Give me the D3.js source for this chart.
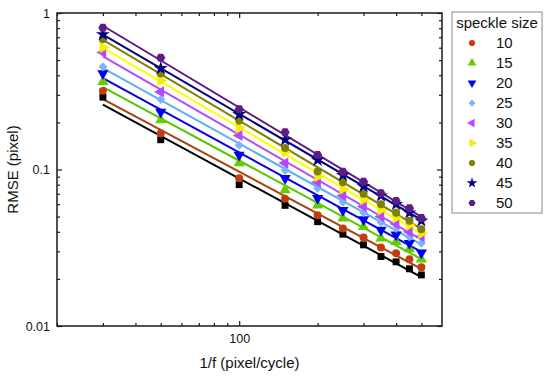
<!DOCTYPE html>
<html>
<head>
<meta charset="utf-8">
<script src="https://cdn.jsdelivr.net/npm/d3@7"></script>
<style>
  body { margin: 0; background: #fff; }
  svg { font-family: Arial, "Liberation Sans", sans-serif; }
</style>
</head>
<body>
<div id="chart"></div>
<script>
// 1/f (pixel/cycle)
var periods = [30, 50, 100, 150, 200, 250, 300, 350, 400, 450, 500];

var speckleSizes = ["10", "15", "20", "25", "30", "35", "40", "45", "50"];

// RMSE (pixel) per series
var rmseBlack = [0.290, 0.155, 0.080, 0.059, 0.0464, 0.0386, 0.0330, 0.0278, 0.0257, 0.0232, 0.0212];
var rmse10 = [0.318, 0.170, 0.088, 0.065, 0.051, 0.042, 0.0368, 0.0317, 0.0292, 0.0267, 0.0237];
var rmse15 = [0.364, 0.207, 0.110, 0.074, 0.059, 0.0488, 0.043, 0.0364, 0.0345, 0.031, 0.0267];
var rmse20 = [0.410, 0.233, 0.124, 0.088, 0.0655, 0.055, 0.048, 0.041, 0.0383, 0.0338, 0.0294];
var rmse25 = [0.454, 0.280, 0.143, 0.099, 0.076, 0.062, 0.053, 0.046, 0.042, 0.037, 0.0338];
var rmse30 = [0.560, 0.313, 0.165, 0.110, 0.083, 0.068, 0.058, 0.050, 0.045, 0.040, 0.0372];
var rmse35 = [0.600, 0.370, 0.184, 0.129, 0.090, 0.075, 0.064, 0.055, 0.049, 0.044, 0.039];
var rmse40 = [0.680, 0.410, 0.205, 0.137, 0.097, 0.083, 0.070, 0.060, 0.053, 0.047, 0.0415];
var rmse45 = [0.730, 0.443, 0.225, 0.155, 0.115, 0.092, 0.078, 0.068, 0.060, 0.053, 0.047];
var rmse50 = [0.806, 0.518, 0.243, 0.173, 0.124, 0.0967, 0.0836, 0.0705, 0.063, 0.0565, 0.049];

var yTickLabels = [0.01, 0.1, 1];
var xTickLabels = [100];

var symbolHexagon = {
  draw: function(context, size) {
    var r = Math.sqrt(size / (1.5 * Math.sqrt(3)));
    for (var i = 0; i < 6; i++) {
      var a = Math.PI / 3 * i;
      var px = r * Math.cos(a), py = r * Math.sin(a);
      if (i === 0) context.moveTo(px, py); else context.lineTo(px, py);
    }
    context.closePath();
  }
};

var series = [
  { name: null, values: rmseBlack, color: "#000000", line: "#000000", shape: d3.symbolSquare, rotate: 0, size: 48 },
  { name: "10", values: rmse10, color: "#c23c14", line: "#a8400f", shape: d3.symbolCircle, rotate: 0, size: 50 },
  { name: "15", values: rmse15, color: "#66cc00", line: "#55c800", shape: d3.symbolTriangle, rotate: 0, size: 55 },
  { name: "20", values: rmse20, color: "#0000f0", line: "#0000e0", shape: d3.symbolTriangle, rotate: 180, size: 55 },
  { name: "25", values: rmse25, color: "#78b4ff", line: "#5cb0f4", shape: d3.symbolSquare, rotate: 45, size: 40 },
  { name: "30", values: rmse30, color: "#b845ff", line: "#b04cf0", shape: d3.symbolTriangle, rotate: -90, size: 55 },
  { name: "35", values: rmse35, color: "#f0f000", line: "#ffff00", shape: d3.symbolTriangle, rotate: 90, size: 55 },
  { name: "40", values: rmse40, color: "#808000", line: "#808000", shape: d3.symbolCircle, rotate: 0, size: 50 },
  { name: "45", values: rmse45, color: "#000080", line: "#000080", shape: d3.symbolStar, rotate: 0, size: 60 },
  { name: "50", values: rmse50, color: "#5e1c86", line: "#5e1c86", shape: symbolHexagon, rotate: 0, size: 55 }
];

var width = 550,
    height = 377;
var plot = { left: 57, right: 442, top: 13, bottom: 326 };

var svg = d3.select("#chart")
  .append("svg")
    .attr("width", width)
    .attr("height", height);

var x = d3.scaleLog().domain([20, 600]).range([plot.left, plot.right]);
var y = d3.scaleLog().domain([0.01, 1]).range([plot.bottom, plot.top]);

var xMinor = [20, 30, 40, 50, 60, 70, 80, 90, 200, 300, 400, 500];
var yMinor = [];
[0.01, 0.1].forEach(function(d) {
  for (var k = 2; k <= 9; k++) yMinor.push(d * k);
});

var axisColor = "#1a1a1a";

function styleAxis(g) {
  g.select(".domain").remove();
  g.selectAll(".tick line").attr("stroke", axisColor).attr("stroke-width", 1.2);
  g.selectAll(".tick text").attr("font-size", "12.5px").attr("fill", "#111")
    .attr("font-family", "Arial, 'Liberation Sans', sans-serif");
}

// bottom axis
svg.append("g")
  .attr("transform", "translate(0," + plot.bottom + ")")
  .call(d3.axisBottom(x).tickValues(xTickLabels).tickFormat(d3.format("d")).tickSize(-5).tickPadding(8))
  .call(styleAxis);
svg.append("g")
  .attr("transform", "translate(0," + plot.bottom + ")")
  .call(d3.axisBottom(x).tickValues(xMinor).tickFormat("").tickSize(-3))
  .call(styleAxis);
// top axis
svg.append("g")
  .attr("transform", "translate(0," + plot.top + ")")
  .call(d3.axisTop(x).tickValues(xTickLabels).tickFormat("").tickSize(-5))
  .call(styleAxis);
svg.append("g")
  .attr("transform", "translate(0," + plot.top + ")")
  .call(d3.axisTop(x).tickValues(xMinor).tickFormat("").tickSize(-3))
  .call(styleAxis);
// left axis
svg.append("g")
  .attr("transform", "translate(" + plot.left + ",0)")
  .call(d3.axisLeft(y).tickValues(yTickLabels).tickFormat(function(d) { return String(d); }).tickSize(-5).tickPadding(7))
  .call(styleAxis);
svg.append("g")
  .attr("transform", "translate(" + plot.left + ",0)")
  .call(d3.axisLeft(y).tickValues(yMinor).tickFormat("").tickSize(-3))
  .call(styleAxis);
// right axis
svg.append("g")
  .attr("transform", "translate(" + plot.right + ",0)")
  .call(d3.axisRight(y).tickValues(yTickLabels).tickFormat("").tickSize(-5))
  .call(styleAxis);
svg.append("g")
  .attr("transform", "translate(" + plot.right + ",0)")
  .call(d3.axisRight(y).tickValues(yMinor).tickFormat("").tickSize(-3))
  .call(styleAxis);

// frame
svg.append("rect")
  .attr("x", plot.left)
  .attr("y", plot.top)
  .attr("width", plot.right - plot.left)
  .attr("height", plot.bottom - plot.top)
  .attr("fill", "none")
  .attr("stroke", axisColor)
  .attr("stroke-width", 1.5);

// power-law fit in log-log space for each series
function fitLine(values) {
  var lx = periods.map(function(p) { return Math.log(p); });
  var ly = values.map(function(v) { return Math.log(v); });
  var mx = d3.mean(lx), my = d3.mean(ly);
  var num = 0, den = 0;
  for (var i = 0; i < lx.length; i++) {
    num += (lx[i] - mx) * (ly[i] - my);
    den += (lx[i] - mx) * (lx[i] - mx);
  }
  var b = num / den, a = my - b * mx;
  var ends = d3.extent(periods);
  return ends.map(function(p) { return [p, Math.exp(a + b * Math.log(p))]; });
}

var line = d3.line()
  .x(function(d) { return x(d[0]); })
  .y(function(d) { return y(d[1]); });

svg.append("g")
  .selectAll("path")
  .data(series)
  .enter()
    .append("path")
    .attr("d", function(s) { return line(fitLine(s.values)); })
    .attr("fill", "none")
    .attr("stroke", function(s) { return s.line; })
    .attr("stroke-width", 2);

series.forEach(function(s) {
  var sym = d3.symbol().type(s.shape).size(s.size);
  svg.append("g")
    .selectAll("path")
    .data(s.values)
    .enter()
      .append("path")
      .attr("d", sym)
      .attr("transform", function(v, i) {
        return "translate(" + x(periods[i]) + "," + y(v) + ") rotate(" + s.rotate + ")";
      })
      .attr("fill", s.color);
});

// axis titles
svg.append("text")
  .attr("x", (plot.left + plot.right) / 2)
  .attr("y", 368)
  .attr("text-anchor", "middle")
  .attr("font-size", "15px")
  .attr("fill", "#111")
  .text("1/f (pixel/cycle)");

svg.append("text")
  .attr("transform", "translate(18," + ((plot.top + plot.bottom) / 2) + ") rotate(-90)")
  .attr("text-anchor", "middle")
  .attr("font-size", "15px")
  .attr("fill", "#111")
  .text("RMSE (pixel)");

// legend
var legend = svg.append("g").attr("class", "legend");
legend.append("rect")
  .attr("x", 452)
  .attr("y", 12)
  .attr("width", 90)
  .attr("height", 201)
  .attr("fill", "#fff")
  .attr("stroke", "#888")
  .attr("stroke-width", 1);
legend.append("text")
  .attr("x", 497)
  .attr("y", 28)
  .attr("text-anchor", "middle")
  .attr("font-size", "15px")
  .attr("fill", "#111")
  .text("speckle size");

var legendRow = d3.scaleBand().domain(speckleSizes).range([33, 213]);
var legendSeries = series.filter(function(s) { return s.name !== null; });
var rows = legend.selectAll("g.row")
  .data(legendSeries)
  .enter()
    .append("g")
    .attr("class", "row")
    .attr("transform", function(s) {
      return "translate(0," + (legendRow(s.name) + legendRow.bandwidth() / 2) + ")";
    });
rows.append("path")
  .attr("d", function(s) { return d3.symbol().type(s.shape).size(s.size * 0.6)(); })
  .attr("transform", function(s) { return "translate(472,0) rotate(" + s.rotate + ")"; })
  .attr("fill", function(s) { return s.color; });
rows.append("text")
  .attr("x", 496)
  .attr("dy", "0.35em")
  .attr("font-size", "15px")
  .attr("fill", "#111")
  .text(function(s) { return s.name; });
</script>
</body>
</html>
